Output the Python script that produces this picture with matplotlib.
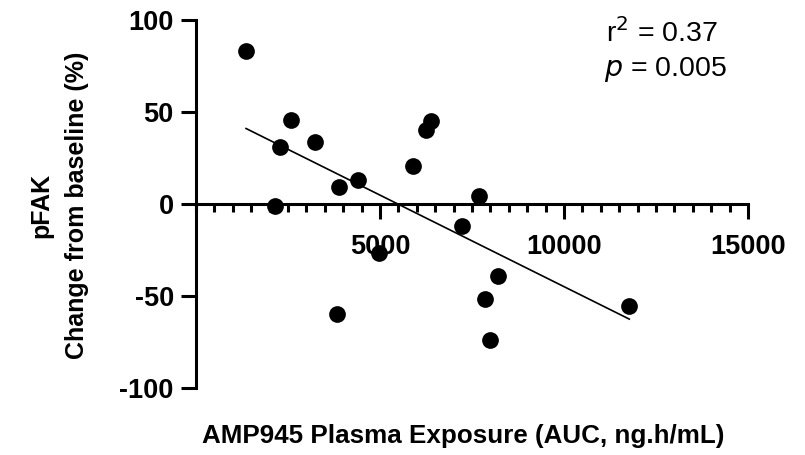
#scatter of pFAK change vs AMP945 plasma exposure, with linear fit
import numpy as np
import matplotlib.pyplot as plt
from matplotlib.ticker import MultipleLocator

plt.rcParams['font.family'] = ['Liberation Sans', 'DejaVu Sans']
plt.rcParams['axes.unicode_minus'] = False

#values
auc = [1359, 2283, 2582, 2147, 3234, 3894, 4410, 5896, 6250, 6377,
       7698, 7220, 4981, 8215, 7853, 7989, 3840, 11774]
pfak = [83.4, 31.1, 45.8, -1.0, 33.8, 8.9, 13.1, 20.7, 40.2, 45.2,
        4.0, -12.0, -26.5, -39.2, -51.9, -74.3, -60.1, -55.6]
x_ticks = [5000, 10000, 15000]
y_ticks = [-100, -50, 0, 50, 100]
r2_text = 'r$^2$ = 0.37'
p_text = '$\\it{p}$ = 0.005'

fig = plt.figure(figsize=(8.05, 4.55), dpi=100)
ax = fig.add_axes([0.2435, 0.148, 0.6857, 0.808])

x = np.array(auc)
y = np.array(pfak)
ax.scatter(x, y, s=145, color='black', zorder=3, linewidths=0)

#linear fit over the data range
slope, intercept = np.polyfit(x, y, 1)
xs = np.array([x.min(), x.max()])
ax.plot(xs, slope * xs + intercept, '-', color='black', lw=1.2, zorder=2)

ax.set_xlim(0, 15000)
ax.set_ylim(-100, 100)

#axes styling: x axis crosses at y=0
ax.spines['top'].set_visible(False)
ax.spines['right'].set_visible(False)
ax.spines['bottom'].set_position(('data', 0))
ax.spines['bottom'].set_linewidth(2.2)
ax.spines['left'].set_linewidth(2.2)
ax.spines['left'].set_bounds(-100, 100)
ax.spines['bottom'].set_bounds(0, 15000)

ax.set_xticks(x_ticks)
ax.xaxis.set_minor_locator(MultipleLocator(500))
ax.set_yticks(y_ticks)
ax.tick_params(axis='x', which='major', direction='out', length=11, width=2.2,
               pad=11, labelsize=19.5)
ax.tick_params(axis='x', which='minor', direction='out', length=6, width=2.2)
ax.tick_params(axis='y', which='major', direction='out', length=11, width=2.2,
               pad=5, labelsize=19.5)
for lab in ax.get_xticklabels() + ax.get_yticklabels():
    lab.set_fontweight('bold')

#two-line y label
fig.text(0.051, 0.548, 'pFAK', rotation=90, fontsize=18, fontweight='bold',
         ha='center', va='center')
fig.text(0.096, 0.548, 'Change from baseline (%)', rotation=90, fontsize=18,
         fontweight='bold', ha='center', va='center')
fig.text(0.575, 0.042, 'AMP945 Plasma Exposure (AUC, ng.h/mL)', fontsize=18.75,
         fontweight='bold', ha='center', va='center')

fig.text(0.822, 0.927, r2_text, fontsize=20.5, ha='center', va='center')
fig.text(0.826, 0.848, p_text, fontsize=20.5, ha='center', va='center')

fig.savefig('out.png', dpi=100)
